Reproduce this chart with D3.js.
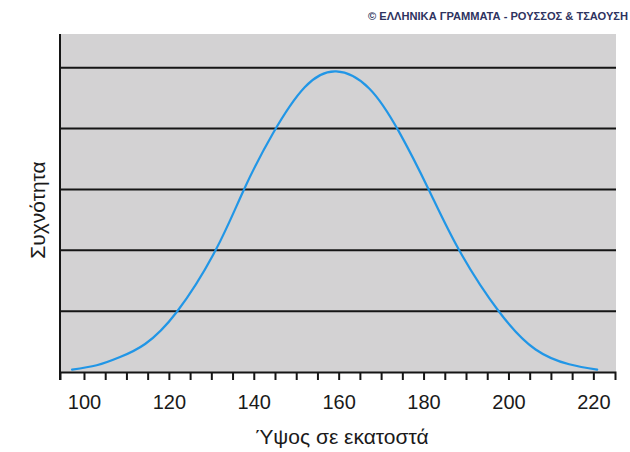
<!DOCTYPE html>
<html><head><meta charset="utf-8">
<script src="https://cdn.jsdelivr.net/npm/d3@7"></script>
<style>
html,body{margin:0;padding:0;background:#fff;}
svg{display:block;}
</style></head>
<body>
<svg id="c" width="630" height="452"></svg>
<script>
// Data
const heights = [97.2, 103.0, 108.5, 114.4, 121.9, 131.0, 137.7, 144.5, 152.0, 159.4, 167.2, 174.2, 181.2, 188.4, 197.8, 206.4, 214.3, 220.9];
const freq    = [0.04, 0.11, 0.245, 0.46, 0.99, 2.0, 3.0, 3.92, 4.68, 4.94, 4.66, 3.95, 3.0, 2.0, 0.99, 0.37, 0.127, 0.04];
const xTicks = d3.range(100, 221, 5);
const xLabels = [100, 120, 140, 160, 180, 200, 220];
const yGrid = [1, 2, 3, 4, 5];
const xTitle = "Ύψος σε εκατοστά";
const yTitle = "Συχνότητα";
const credit = "© ΕΛΛΗΝΙΚΑ ΓΡΑΜΜΑΤΑ - ΡΟΥΣΣΟΣ & ΤΣΑΟΥΣΗ";

const svg = d3.select("#c");
const L = 60, R = 616, T = 34, B = 372;
const x = d3.scaleLinear().domain([94.35, 225.1]).range([L, 615]);
const y = d3.scaleLinear().domain([0, 5.555]).range([B, T]);

// background
svg.append("rect").attr("x", L).attr("y", T).attr("width", R - L).attr("height", B - T).attr("fill", "#d3d2d3");

// gridlines
svg.append("g").selectAll("line").data(yGrid).join("line")
  .attr("x1", L).attr("x2", R)
  .attr("y1", d => y(d)).attr("y2", d => y(d))
  .attr("stroke", "#151515").attr("stroke-width", 2);

// curve
const pts = heights.map((h, i) => [h, freq[i]]);
svg.append("path").datum(pts)
  .attr("fill", "none").attr("stroke", "#2196e6").attr("stroke-width", 2.2)
  .attr("stroke-linecap", "round")
  .attr("d", d3.line().x(d => x(d[0])).y(d => y(d[1])).curve(d3.curveNatural));

// y axis line
svg.append("line").attr("x1", L).attr("x2", L).attr("y1", T).attr("y2", B + 8)
  .attr("stroke", "#151515").attr("stroke-width", 2);

// x axis
const xa = svg.append("g").attr("transform", `translate(0,${B})`)
  .call(d3.axisBottom(x).tickValues(xTicks).tickSize(8).tickSizeOuter(8)
    .tickFormat(d => xLabels.includes(d) ? d : ""));
xa.select(".domain").attr("stroke", "#151515").attr("stroke-width", 2);
xa.selectAll(".tick line").attr("stroke", "#151515").attr("stroke-width", 2);
xa.selectAll(".tick text").attr("fill", "#1a1a1a")
  .attr("font-family", "'Liberation Sans Narrow', 'Liberation Sans', Arial, sans-serif")
  .attr("font-size", 20).attr("dy", "0").attr("y", 37);

// titles
svg.append("text").attr("x", 342).attr("y", 444).attr("text-anchor", "middle")
  .attr("font-family", "'Liberation Sans', Arial, sans-serif").attr("font-size", 21).attr("fill", "#1a1a1a")
  .text(xTitle);
svg.append("text").attr("transform", "translate(45,210) rotate(-90)").attr("text-anchor", "middle")
  .attr("font-family", "'Liberation Sans', Arial, sans-serif").attr("font-size", 21).attr("fill", "#1a1a1a")
  .text(yTitle);
svg.append("text").attr("x", 368).attr("y", 20)
  .attr("font-family", "'Liberation Sans', Arial, sans-serif").attr("font-size", 10).attr("font-weight", "bold")
  .attr("fill", "#2e3360").attr("textLength", 260).attr("lengthAdjust", "spacingAndGlyphs")
  .text(credit);
</script>
</body></html>
